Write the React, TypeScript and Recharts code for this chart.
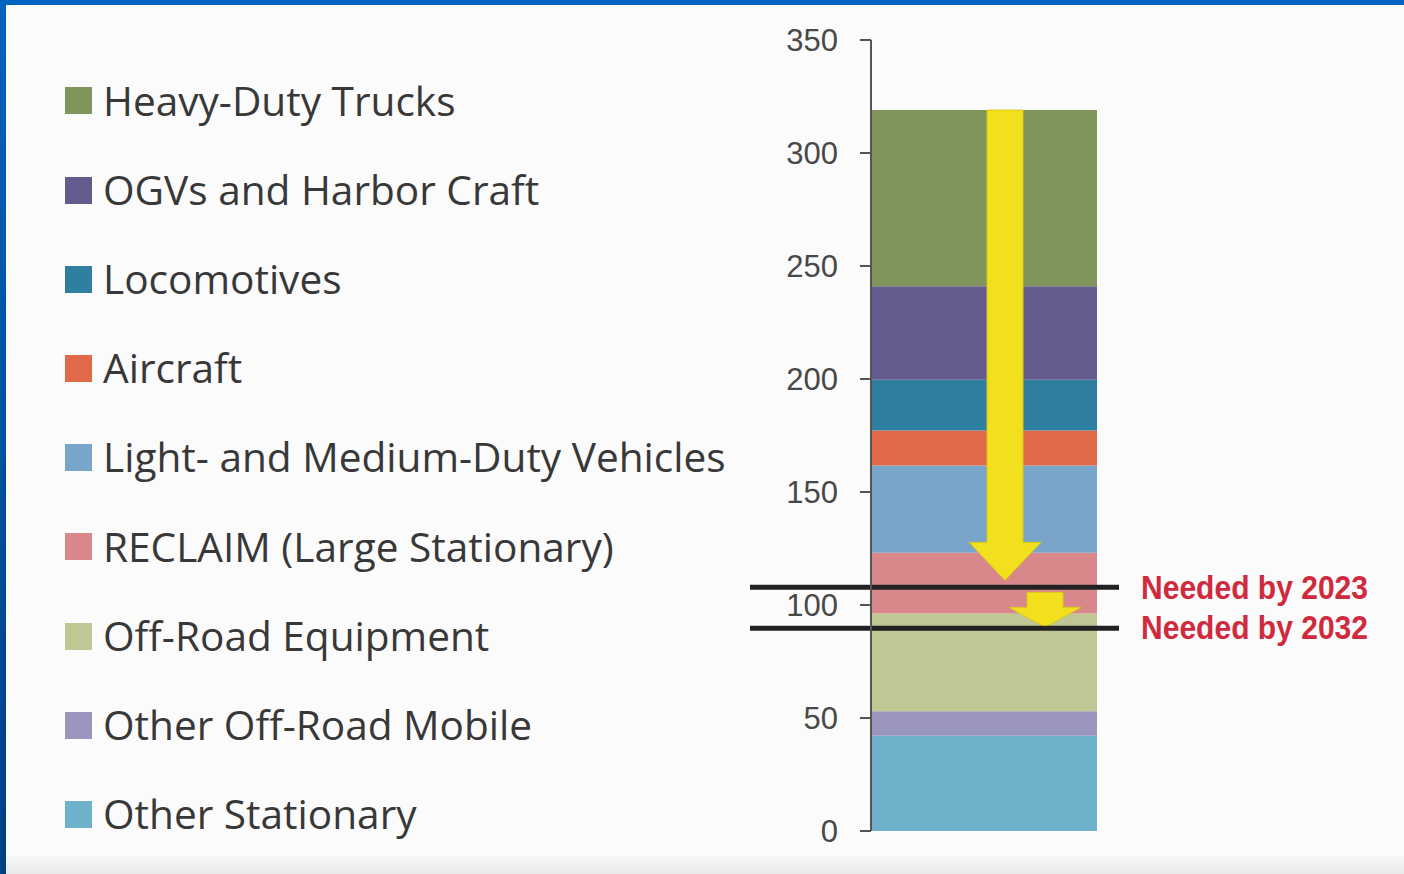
import React from 'react';
import { ComposedChart, Bar, XAxis, YAxis, ReferenceLine, ReferenceArea } from 'recharts';

// ---- data ----
const categories = ['Emissions'];
const seriesNames = [
  'Other Stationary',
  'Other Off-Road Mobile',
  'Off-Road Equipment',
  'RECLAIM (Large Stationary)',
  'Light- and Medium-Duty Vehicles',
  'Aircraft',
  'Locomotives',
  'OGVs and Harbor Craft',
  'Heavy-Duty Trucks',
];
const seriesValues = [42.1, 10.9, 43.2, 26.9, 38.6, 15.5, 22.5, 41.3, 78.0];
const seriesColors = [
  '#6db1cb',
  '#9a95bc',
  '#bfc894',
  '#d8888b',
  '#79a5ca',
  '#e06a48',
  '#2f7fa1',
  '#655b8e',
  '#80955c',
];
const yTicks = [0, 50, 100, 150, 200, 250, 300, 350];
const targetLabels = ['Needed by 2023', 'Needed by 2032'];
const targetValues = [107.8, 89.7];
const arrowFrom = [319.0, 105.6];
const arrowTo = [110.9, 90.1];

// ---- chart table built from arrays ----
const data = categories.map((name) => {
  const row: Record<string, any> = { name };
  seriesValues.forEach((v, i) => {
    row[`s${i}`] = v;
  });
  return row;
});

// ---- styles ----
const arrowStyles = [
  { pos: 0.593, shaftHalf: 18, headHalf: 36, headLen: 38 },
  { pos: 0.77, shaftHalf: 18, headHalf: 36, headLen: 20 },
];

const makeArrowShape = (s: { pos: number; shaftHalf: number; headHalf: number; headLen: number }) =>
  (props: any) => {
    const { x, y, width, height } = props;
    if (x == null || y == null) return <g />;
    const cx = x + s.pos * width;
    const top = y;
    const tip = y + height;
    const base = tip - s.headLen;
    const d = `M${cx - s.shaftHalf},${top} L${cx + s.shaftHalf},${top} L${cx + s.shaftHalf},${base} L${cx + s.headHalf},${base} L${cx},${tip} L${cx - s.headHalf},${base} L${cx - s.shaftHalf},${base} Z`;
    return <path d={d} fill="#f2e01f" stroke="#d9c81b" strokeWidth={1} />;
  };

const targetLineShape = (props: any) => {
  const { x1, x2, y1, y2 } = props;
  return (
    <line x1={x1 - 121} x2={x2 + 22} y1={y1} y2={y2} stroke="#222" strokeWidth={5} />
  );
};

const makeTargetLabel = (text: string) => (props: any) => {
  const vb = props.viewBox || {};
  const x = (vb.x ?? 0) + (vb.width ?? 0) + 44;
  const y = (vb.y ?? 0) + (vb.height ?? 0) / 2;
  return (
    <text
      x={x}
      y={y}
      dy="0.33em"
      fill="#cf2a3e"
      fontSize={34}
      fontWeight="bold"
      fontFamily='"Liberation Sans", Arial, sans-serif'
      textLength={227}
      lengthAdjust="spacingAndGlyphs"
    >
      {text}
    </text>
  );
};

const legendFont = '"Open Sans", "Noto Sans", sans-serif';

export default function App() {
  const legendOrder = seriesNames.map((n, i) => i).reverse();
  return (
    <div
      style={{
        position: 'fixed',
        left: 0,
        top: 0,
        width: 1404,
        height: 874,
        background: '#fbfbfb',
        overflow: 'hidden',
      }}
    >
      <div style={{ position: 'absolute', left: 0, top: 0, width: 1404, height: 5, background: '#0062c1' }} />
      <div
        style={{
          position: 'absolute',
          left: 0,
          top: 0,
          width: 6,
          height: 874,
          background: 'linear-gradient(#0062c1, #003e82)',
        }}
      />
      <div
        style={{
          position: 'absolute',
          left: 6,
          top: 856,
          width: 1398,
          height: 18,
          background: 'linear-gradient(#f6f6f6, #e9e9e9)',
        }}
      />
      <div style={{ position: 'absolute', left: 65, top: 56.4 }}>
        {legendOrder.map((i) => (
          <div
            key={seriesNames[i]}
            style={{ height: 89.2, display: 'flex', alignItems: 'center' }}
          >
            <div style={{ width: 27, height: 27, background: seriesColors[i], marginRight: 11 }} />
            <span
              style={{
                fontFamily: legendFont,
                fontSize: 40.6,
                color: '#383838',
                whiteSpace: 'nowrap',
                lineHeight: 1,
              }}
            >
              {seriesNames[i]}
            </span>
          </div>
        ))}
      </div>
      <div style={{ position: 'absolute', left: 0, top: 0 }}>
        <ComposedChart
          width={1404}
          height={874}
          data={data}
          margin={{ top: 40, right: 307, bottom: 43, left: 771 }}
          barCategoryGap={0}
        >
          <XAxis dataKey="name" hide />
          <YAxis
            domain={[0, 350]}
            ticks={yTicks}
            interval={0}
            width={100}
            tickSize={11}
            tickMargin={22}
            axisLine={{ stroke: '#555', strokeWidth: 2 }}
            tickLine={{ stroke: '#555', strokeWidth: 2 }}
            tick={{ fill: '#484848', fontSize: 31, fontFamily: '"Liberation Sans", Arial, sans-serif' }}
          />
          {seriesNames.map((n, i) => (
            <Bar
              key={n}
              name={n}
              dataKey={`s${i}`}
              stackId="a"
              fill={seriesColors[i]}
              isAnimationActive={false}
            />
          ))}
          {arrowFrom.map((from, i) => (
            <ReferenceArea
              key={`arrow${i}`}
              y1={arrowTo[i]}
              y2={from}
              ifOverflow="visible"
              zIndex={350}
              shape={makeArrowShape(arrowStyles[i])}
            />
          ))}
          {targetValues.map((v, i) => (
            <ReferenceLine
              key={targetLabels[i]}
              y={v}
              zIndex={450}
              shape={targetLineShape}
              label={makeTargetLabel(targetLabels[i])}
            />
          ))}
        </ComposedChart>
      </div>
    </div>
  );
}
